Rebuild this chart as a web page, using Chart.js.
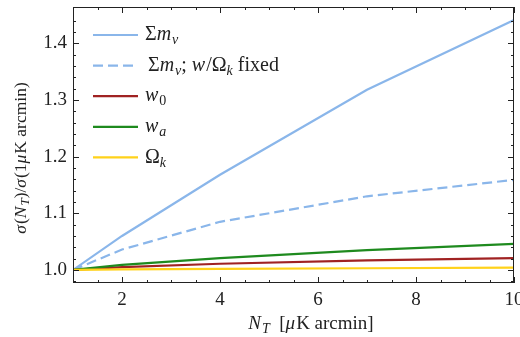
<!DOCTYPE html>
<html lang="en">
<head>
  <meta charset="UTF-8" />
  <title>sigma vs noise</title>
  <script src="https://cdn.jsdelivr.net/npm/chart.js"></script>
  <style>
    html, body { margin: 0; padding: 0; background: #fff; }
    #wrap { width: 520px; height: 337px; }
  </style>
</head>
<body>
  <div id="wrap"><canvas id="chart" width="520" height="337"></canvas></div>

  <script>
    // noise levels (uK arcmin)
    const noise = [1, 2, 4, 7, 10];
    // ratios
    const mnu      = [1.000, 1.060, 1.168, 1.318, 1.441];
    const mnuFixed = [1.000, 1.036, 1.085, 1.130, 1.159];
    const w0       = [1.000, 1.005, 1.011, 1.017, 1.021];
    const wa       = [1.000, 1.009, 1.021, 1.035, 1.046];
    const omk      = [1.000, 1.001, 1.002, 1.003, 1.004];

    const xTicks = [2, 4, 6, 8, 10];
    const yTicks = [1.0, 1.1, 1.2, 1.3, 1.4];

    const colors = ['#8ab6ea', '#8ab6ea', '#a02222', '#1e8a1e', '#ffd21a'];

    // legend labels as math pieces: n = upright, i = italic, s = subscript upright, si = subscript italic
    const legendLabels = [
      [['\u03A3', 'n'], ['m', 'i'], ['\u03BD', 'si']],
      [['\u03A3', 'n'], ['m', 'i'], ['\u03BD', 'si'], ['; ', 'n'], ['w', 'i'], ['/\u03A9', 'n'], ['k', 'si'], [' fixed', 'n']],
      [['w', 'i'], ['0', 's']],
      [['w', 'i'], ['a', 'si']],
      [['\u03A9', 'n'], ['k', 'si']]
    ];
    const xTitle = [['N', 'i'], ['T', 'si'], ['  [', 'n'], ['\u03BC', 'i'], ['K arcmin]', 'n']];
    const yTitle = [['\u03C3', 'i'], ['(', 'n'], ['N', 'i'], ['T', 'si'], [')/', 'n'], ['\u03C3', 'i'], ['(1', 'n'], ['\u03BC', 'i'], ['K arcmin)', 'n']];

    const FONT = '"Liberation Serif", "DejaVu Serif", serif';

    function pieceFont(style, size) {
      const sub = style === 's' || style === 'si';
      const it = style === 'i' || style === 'si';
      return (it ? 'italic ' : '') + (sub ? Math.round(size * 0.72) : size) + 'px ' + FONT;
    }

    function richWidth(ctx, parts, size) {
      let w = 0;
      parts.forEach(p => { ctx.font = pieceFont(p[1], size); w += ctx.measureText(p[0]).width + (p[1] === 'i' ? 1 : 0); });
      return w;
    }

    function drawRich(ctx, parts, x, y, size) {
      ctx.textBaseline = 'middle';
      ctx.textAlign = 'left';
      let cx = x;
      parts.forEach(p => {
        const sub = p[1] === 's' || p[1] === 'si';
        ctx.font = pieceFont(p[1], size);
        ctx.fillText(p[0], cx, sub ? y + size * 0.28 : y);
        cx += ctx.measureText(p[0]).width + (p[1] === 'i' ? 1 : 0);
      });
    }

    const decor = {
      id: 'decor',
      afterDraw(chart) {
        const ctx = chart.ctx;
        const a = chart.chartArea;
        const xs = chart.scales.x, ys = chart.scales.y;
        ctx.save();
        ctx.strokeStyle = '#222';
        ctx.lineWidth = 1;
        ctx.strokeRect(a.left + 0.5, a.top + 0.5, a.right - a.left - 1, a.bottom - a.top - 1);

        // inward ticks on all four sides
        ctx.beginPath();
        for (let v = 1; v <= 10.001; v += 0.5) {
          const major = xTicks.some(t => Math.abs(t - v) < 1e-6);
          const len = major ? 6 : 3;
          const px = Math.round(xs.getPixelForValue(v)) + 0.5;
          ctx.moveTo(px, a.bottom); ctx.lineTo(px, a.bottom - len);
          ctx.moveTo(px, a.top); ctx.lineTo(px, a.top + len);
        }
        for (let v = 0.98; v <= 1.46; v += 0.02) {
          const major = yTicks.some(t => Math.abs(t - v) < 1e-6);
          const len = major ? 6 : 3;
          const py = Math.round(ys.getPixelForValue(v)) + 0.5;
          ctx.moveTo(a.left, py); ctx.lineTo(a.left + len, py);
          ctx.moveTo(a.right, py); ctx.lineTo(a.right - len, py);
        }
        ctx.stroke();

        // legend
        chart.data.datasets.forEach((ds, i) => {
          const y = 35 + i * 30.6;
          ctx.beginPath();
          ctx.strokeStyle = ds.borderColor;
          ctx.lineWidth = 2.2;
          ctx.setLineDash(ds.borderDash || []);
          ctx.moveTo(93, y); ctx.lineTo(138, y);
          ctx.stroke();
          ctx.setLineDash([]);
          ctx.fillStyle = '#222';
          drawRich(ctx, legendLabels[i], i === 1 ? 148 : 145, y, 20);
        });

        // axis titles
        ctx.fillStyle = '#222';
        const xw = richWidth(ctx, xTitle, 19);
        drawRich(ctx, xTitle, 311 - xw / 2, 324, 19);
        ctx.translate(21, 158);
        ctx.rotate(-Math.PI / 2);
        const yw = richWidth(ctx, yTitle, 17.5);
        drawRich(ctx, yTitle, -yw / 2, 0, 17.5);
        ctx.restore();
      }
    };

    const series = [mnu, mnuFixed, w0, wa, omk];
    const datasets = series.map((s, i) => ({
      data: s.map((v, j) => ({ x: noise[j], y: v })),
      borderColor: colors[i],
      borderWidth: 2.2,
      borderDash: i === 1 ? [10, 5] : undefined,
      pointRadius: 0,
      tension: 0,
      fill: false,
      order: 5 - i
    }));

    new Chart(document.getElementById('chart'), {
      type: 'line',
      data: { datasets },
      options: {
        responsive: false,
        animation: false,
        layout: { padding: { left: 0, right: 6, top: 7, bottom: 0 } },
        plugins: { legend: { display: false }, tooltip: { enabled: false } },
        scales: {
          x: {
            type: 'linear', min: 1, max: 10,
            afterBuildTicks: s => { s.ticks = xTicks.map(v => ({ value: v })); },
            afterFit: s => { s.height = 54; s.paddingLeft = 0; s.paddingRight = 0; },
            grid: { display: false, drawTicks: false },
            border: { display: false },
            ticks: { color: '#222', padding: 6, font: { family: FONT, size: 19 }, maxRotation: 0 }
          },
          y: {
            type: 'linear', min: 0.977, max: 1.464,
            afterBuildTicks: s => { s.ticks = yTicks.map(v => ({ value: v })); },
            afterFit: s => { s.width = 73; s.paddingTop = 0; s.paddingBottom = 0; },
            grid: { display: false, drawTicks: false },
            border: { display: false },
            ticks: { color: '#222', padding: 6, font: { family: FONT, size: 19 }, callback: v => v.toFixed(1) }
          }
        }
      },
      plugins: [decor]
    });
  </script>
</body>
</html>
